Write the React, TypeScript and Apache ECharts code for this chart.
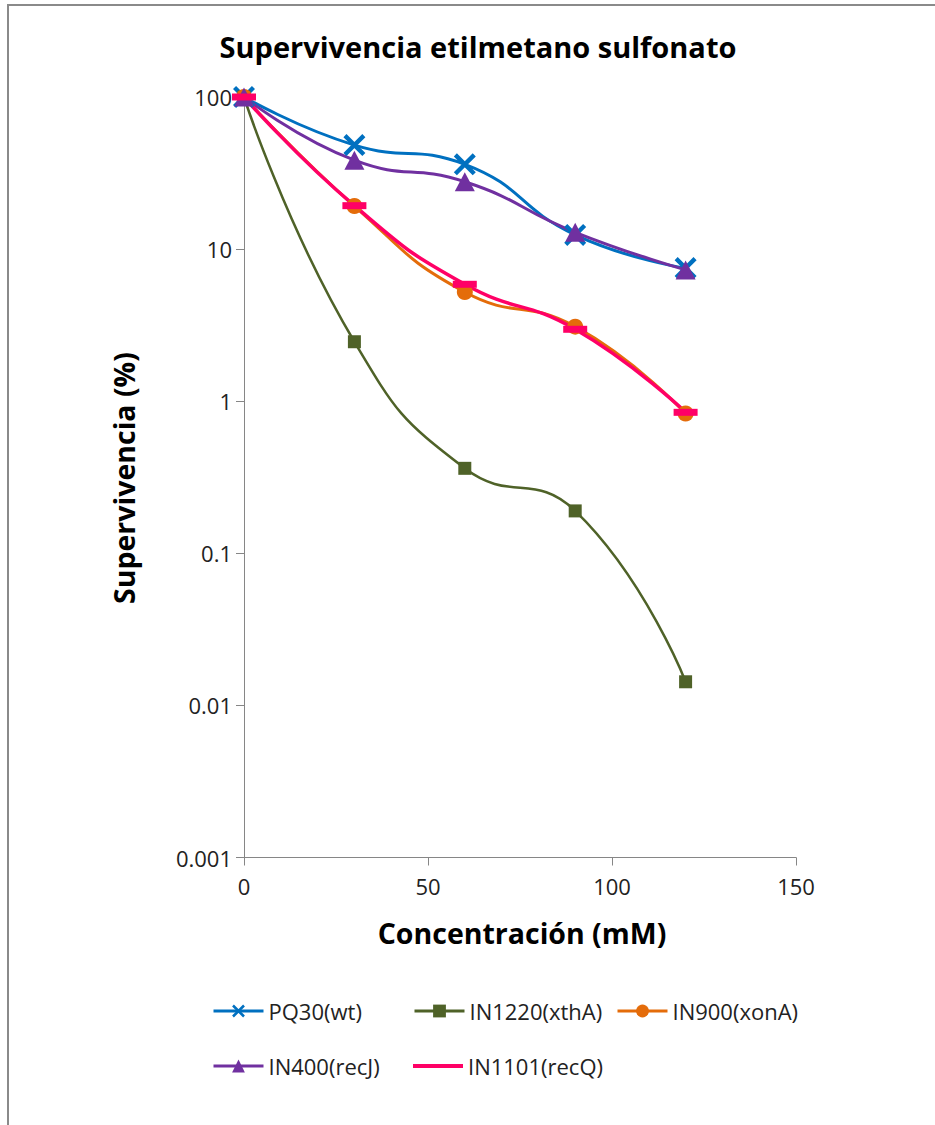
import React, { useEffect, useRef } from "react";
import * as echarts from "echarts";

const concentrations = [0, 30, 60, 90, 120];
const pq30 = [100, 48.3, 36.1, 12.4, 7.5];
const in1220 = [100, 2.46, 0.362, 0.19, 0.0143];
const in900 = [100, 19.2, 5.22, 3.09, 0.83];
const in400 = [100, 38.4, 27.7, 12.9, 7.3];
const in1101 = [100, 19.3, 5.87, 2.97, 0.845];
const seriesNames = ["PQ30(wt)", "IN1220(xthA)", "IN900(xonA)", "IN400(recJ)", "IN1101(recQ)"];
const yTickLabels = ["0.001", "0.01", "0.1", "1", "10", "100"];

const titleText = "Supervivencia etilmetano sulfonato";
const xTitle = "Concentración (mM)";
const yTitle = "Supervivencia (%)";

const FONT = "'Open Sans', 'Liberation Sans', sans-serif";
const crossPath = "path://M0,1.4L1.4,0L10,8.6L8.6,10ZM8.6,0L10,1.4L1.4,10L0,8.6Z";

const pair = (ys: number[]) => concentrations.map((x, i) => [x, ys[i]]);

export default function App() {
  const ref = useRef<HTMLDivElement>(null);
  useEffect(() => {
    if (!ref.current) return;
    const chart = echarts.init(ref.current, undefined, { renderer: "svg" });
    const legendPos = [
      { left: 212, top: 999 },
      { left: 413, top: 999 },
      { left: 616, top: 999 },
      { left: 212, top: 1054 },
      { left: 413, top: 1054 },
    ];
    const option: any = {
      animation: false,
      backgroundColor: "#ffffff",
      grid: { left: 244, right: 139, top: 97, bottom: 267.5, containLabel: false },
      xAxis: {
        type: "value",
        min: 0,
        max: 150,
        interval: 50,
        axisLine: { show: true, lineStyle: { color: "#868686", width: 1 } },
        axisTick: { show: true, length: 8, lineStyle: { color: "#868686" } },
        axisLabel: { fontFamily: FONT, fontSize: 22, color: "#222", margin: 17 },
        splitLine: { show: false },
      },
      yAxis: {
        type: "log",
        logBase: 10,
        min: 0.001,
        max: 100,
        axisLine: { show: true, lineStyle: { color: "#868686", width: 1 } },
        axisTick: { show: true, length: 8, lineStyle: { color: "#868686" } },
        axisLabel: {
          fontFamily: FONT,
          fontSize: 22,
          color: "#222",
          margin: 12,
          formatter: (v: number) => yTickLabels[Math.round(Math.log10(v)) + 3],
        },
        splitLine: { show: false },
        minorTick: { show: false },
      },
      legend: legendPos.map((p, i) => {
        const isLast = i === 4;
        return {
          data: isLast
            ? [{ name: seriesNames[i], icon: "rect" }]
            : [seriesNames[i]],
          left: p.left,
          top: p.top,
          padding: 0,
          itemWidth: 50,
          itemHeight: isLast ? 4 : 16,
          itemGap: 0,
          lineStyle: { width: 3 },
          textStyle: { fontFamily: FONT, fontSize: 22, color: "#222", lineHeight: 24 },
          selectedMode: false,
        };
      }),
      graphic: [
        {
          type: "rect",
          shape: { x: 8, y: 5, width: 940, height: 1140 },
          style: { fill: "none", stroke: "#8a8a8a", lineWidth: 2 },
          silent: true,
        },
        {
          type: "text",
          x: 478,
          y: 46,
          style: {
            text: titleText,
            font: `bold 29px ${FONT}`,
            fill: "#000",
            textAlign: "center",
            textVerticalAlign: "middle",
          },
        },
        {
          type: "text",
          x: 522,
          y: 933,
          style: {
            text: xTitle,
            font: `bold 28.5px ${FONT}`,
            fill: "#000",
            textAlign: "center",
            textVerticalAlign: "middle",
          },
        },
        {
          type: "text",
          x: 124,
          y: 478,
          rotation: Math.PI / 2,
          style: {
            text: yTitle,
            font: `bold 28.5px ${FONT}`,
            fill: "#000",
            textAlign: "center",
            textVerticalAlign: "middle",
          },
        },
      ],
      series: [
        {
          name: seriesNames[0],
          type: "line",
          data: pair(pq30),
          smooth: 0.5,
          symbol: crossPath,
          symbolSize: 22,
          lineStyle: { color: "#0070C0", width: 3 },
          itemStyle: { color: "#0070C0" },
        },
        {
          name: seriesNames[1],
          type: "line",
          data: pair(in1220),
          smooth: 0.5,
          symbol: "rect",
          symbolSize: 13,
          lineStyle: { color: "#4F6228", width: 2.5 },
          itemStyle: { color: "#4F6228" },
        },
        {
          name: seriesNames[2],
          type: "line",
          data: pair(in900),
          smooth: 0.5,
          symbol: "circle",
          symbolSize: 16,
          lineStyle: { color: "#E46C0A", width: 3 },
          itemStyle: { color: "#E46C0A" },
        },
        {
          name: seriesNames[3],
          type: "line",
          data: pair(in400),
          smooth: 0.5,
          symbol: "triangle",
          symbolSize: [20, 19],
          lineStyle: { color: "#7030A0", width: 3 },
          itemStyle: { color: "#7030A0" },
        },
        {
          name: seriesNames[4],
          type: "line",
          data: pair(in1101),
          smooth: 0.5,
          symbol: "rect",
          symbolSize: [24, 7],
          lineStyle: { color: "#FF0066", width: 3.5 },
          itemStyle: { color: "#FF0066" },
        },
      ],
    };
    chart.setOption(option);
    return () => chart.dispose();
  }, []);
  return (
    <div
      ref={ref}
      style={{ position: "absolute", left: 0, top: 0, width: 935, height: 1125 }}
    />
  );
}
